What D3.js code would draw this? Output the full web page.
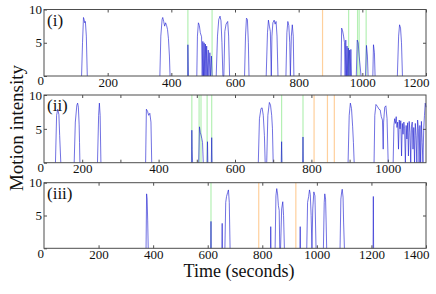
<!DOCTYPE html>
<html>
<head>
<meta charset="utf-8">
<script src="https://cdn.jsdelivr.net/npm/d3@7"></script>
<style>
  body { margin: 0; background: #fff; }
  svg, svg text { font-family: "Liberation Serif", "Times New Roman", serif; }
</style>
</head>
<body>
<svg width="436" height="294"></svg>
<script>
// Motion intensity bursts, [time (s), intensity]
const bursts1 = [
  [[118,0],[121,5],[124,8.8],[126,8.5],[128,8.0],[130,8.2],[133,6],[136,0]],
  [[364,0],[367,6],[371,8.5],[373,8.8],[376,8.2],[379,7.5],[382,8.0],[385,7.6],[388,7.0],[391,5.6],[394,3],[396,0]],
  [[451,0],[452,4.7],[454,0]],
  [[480,0],[482,6],[485,8.0],[488,7.6],[491,6.5],[495,5.9],[497,0],[499,5.2],[501,0],[503,5.0],[505,0],[507,4.8],[509,0],[511,4.5],[513,0],[516,3.9],[518,0],[521,3.5],[523,0],[526,3.0],[528,0]],
  [[541,0],[545,6],[549,8.5],[553,9.0],[556,8.3],[559,5],[562,0],[565,0],[568,6.7],[572,7.8],[577,8.2],[580,6],[583,0]],
  [[630,0],[633,6],[636,8.7],[639,8.5],[642,5],[644,0]],
  [[698,0],[702,6.5],[705,8.4],[708,7.5],[711,6.7],[714,0],[716,6],[719,8.0],[723,8.4],[726,7.8],[729,8.2],[732,6],[735,0]],
  [[760,0],[763,6.5],[766,8.2],[769,7.6],[772,5],[774,0],[777,6],[780,7.7],[783,6],[785,0]],
  [[933,0],[935,7.2],[938,6.8],[941,6],[944,5],[946,0],[948,5.4],[950,0],[952,4.5],[954,0],[956,4.2],[958,0],[960,3.9],[962,0],[964,4.0],[966,0]],
  [[981,0],[984,5.4],[987,5.0],[990,3],[993,1.5],[996,0]],
  [[1010,0],[1013,4.6],[1016,3],[1018,0]],
  [[1033,0],[1035,4.7],[1038,3.5],[1040,0]],
  [[1110,0],[1114,6],[1117,7.7],[1120,7.2],[1123,5],[1126,0]]
];
const bursts2 = [
  [[130,0],[133,7],[136,7.9],[139,7.1],[141,4],[144,0]],
  [[179,0],[182,6],[186,8.5],[188,8.8],[190,8.2],[192,5.6],[193,3],[194,0]],
  [[240,0],[243,7],[245,8.8],[247,7],[249,0]],
  [[366,0],[368,7.9],[371,7.6],[374,7.0],[377,7.3],[380,6],[382,0]],
  [[486,0],[487,4.8],[488,1.9],[489,0]],
  [[505,0],[507,5.3],[509,4.5],[511,4.1],[513,3.6],[515,3],[517,0]],
  [[527,0],[528,3.1],[529,0]],
  [[538,0],[539,3.7],[540,0]],
  [[661,0],[664,6.5],[668,8.0],[671,8.1],[674,7],[677,4],[679,0]],
  [[683,0],[686,7],[690,8.9],[693,8.5],[696,7],[698,5.1],[700,0]],
  [[721,0],[722,3.1],[723,0]],
  [[777,0],[778,3.8],[779,0]],
  [[896,0],[899,7],[902,8.8],[905,8],[908,5.3],[910,3],[912,0]],
  [[964,0],[966,7],[969,8.6],[973,8.3],[977,7.9],[980,7.8],[983,6.8],[986,6.3],[988,2],[989,6],[992,8.2],[995,8.4],[998,6.5],[1001,0]],
  [[1014,0],[1016,5.5],[1018,6.5],[1020,5.8],[1022,6.8],[1024,5.2],[1026,6.0],[1028,2],[1030,6.3],[1032,5.0],[1034,6.2],[1036,1],[1038,5.8],[1040,4.2],[1042,6.0],[1044,5.0],[1046,0],[1048,5.5],[1050,3.5],[1052,5.9],[1054,1],[1056,6.1],[1058,4.5],[1060,0],[1062,5.4],[1064,6.0],[1066,2],[1068,5.2],[1070,0],[1072,5.8],[1074,4.0],[1076,0],[1078,6.3],[1080,5.0],[1082,0],[1084,5.5],[1086,0],[1088,6.1],[1090,3],[1092,0],[1094,5.0],[1096,7],[1098,8.8],[1100,8.2]]
];
const bursts3 = [
  [[374,0],[376,8.3],[378,7.5],[380,4.3],[382,0]],
  [[611,0],[612,4.1],[613,0]],
  [[652,0],[653,3.8],[654,0]],
  [[663,0],[666,7],[669,7.9],[673,8.5],[676,8.9],[679,7],[682,0]],
  [[830,0],[831,3.3],[832,0]],
  [[847,0],[850,8],[853,9.1],[856,8.3],[859,6.5],[862,5.8],[864,0],[867,0],[871,6],[875,7.1],[878,5],[881,0]],
  [[938,0],[939,3.3],[940,0]],
  [[963,0],[966,7],[970,7.9],[973,8.9],[976,8.2],[979,5],[982,0],[985,6],[989,8.6],[993,8],[997,0]],
  [[1024,0],[1027,7],[1029,8.3],[1032,7.5],[1034,4],[1036,0]],
  [[1085,0],[1088,7.5],[1091,8.6],[1093,9.0],[1096,7.8],[1098,4],[1101,0]],
  [[1206,0],[1207,7.9],[1208,0]]
];

// event markers (seconds)
const green1 = [452, 528, 957, 985, 990, 1012];
const orange1 = [875];
const green2 = [487, 506, 511, 527, 539, 722, 778];
const orange2 = [807, 842, 860];
const green3 = [612];
const orange3 = [787, 923];

const xTicks1 = [200, 400, 600, 800, 1000, 1200];
const xTicks2 = [200, 300, 400, 500, 600, 700, 800, 900, 1000];
const xLabels2 = [200, 400, 600, 800, 1000];
const xTicks3 = [200, 400, 600, 800, 1000, 1200, 1400];
const yTicks = [0, 5, 10];

const panels = [
  {label: "(i)", domain: [0, 1200], top: 9.5, bottom: 76, bursts: bursts1, green: green1, orange: orange1, ticks: xTicks1, labels: xTicks1},
  {label: "(ii)", domain: [100, 1100], top: 95, bottom: 162.7, bursts: bursts2, green: green2, orange: orange2, ticks: xTicks2, labels: xLabels2},
  {label: "(iii)", domain: [0, 1400], top: 182.7, bottom: 248.3, bursts: bursts3, green: green3, orange: orange3, ticks: xTicks3, labels: xTicks3}
];

const svg = d3.select("svg");
const left = 44, right = 426;
const axisColor = "#4d4d4d";
const serif = "Liberation Serif, Times New Roman, serif";

panels.forEach(p => {
  const x = d3.scaleLinear().domain(p.domain).range([left, right]);
  const y = d3.scaleLinear().domain([0, 10]).range([p.bottom, p.top]);
  const g = svg.append("g");

  // event markers
  g.selectAll(".gm").data(p.green).enter().append("line")
    .attr("x1", d => x(d)).attr("x2", d => x(d))
    .attr("y1", p.top).attr("y2", p.bottom)
    .attr("stroke", "#b4f0b4").attr("stroke-width", 1.2);
  g.selectAll(".om").data(p.orange).enter().append("line")
    .attr("x1", d => x(d)).attr("x2", d => x(d))
    .attr("y1", p.top).attr("y2", p.bottom)
    .attr("stroke", "#ffd09c").attr("stroke-width", 1.2);

  const line = d3.line().x(d => x(d[0])).y(d => y(d[1]));
  g.selectAll(".burst").data(p.bursts).enter().append("path")
    .attr("d", line)
    .attr("fill", "none")
    .attr("stroke", "#1f1fd0")
    .attr("stroke-opacity", 0.7)
    .attr("stroke-width", 0.9)
    .attr("stroke-linejoin", "round");

  // box
  g.append("rect")
    .attr("x", left).attr("y", p.top)
    .attr("width", right - left).attr("height", p.bottom - p.top)
    .attr("fill", "none").attr("stroke", axisColor).attr("stroke-width", 1);

  // bottom axis (inward ticks)
  const xb = g.append("g").attr("transform", `translate(0,${p.bottom})`)
    .call(d3.axisBottom(x).tickValues(p.ticks).tickSizeInner(-3).tickSizeOuter(0)
      .tickFormat(d => p.labels.includes(d) ? d : ""))
    .attr("font-family", serif);
  xb.select(".domain").remove();
  xb.selectAll("line").attr("stroke", axisColor);
  xb.selectAll("text").attr("font-size", 13).attr("fill", "#111").attr("y", 1.5);
  xb.selectAll("text").filter(d => d === p.domain[1]).attr("text-anchor", "end").attr("dx", 3);

  const xt = g.append("g").attr("transform", `translate(0,${p.top})`)
    .call(d3.axisTop(x).tickValues(p.ticks).tickSizeInner(-3).tickSizeOuter(0).tickFormat(""));
  xt.select(".domain").remove();
  xt.selectAll("line").attr("stroke", axisColor);

  const yl = g.append("g").attr("transform", `translate(${left},0)`)
    .call(d3.axisLeft(y).tickValues(yTicks).tickSizeInner(-3).tickSizeOuter(0))
    .attr("font-family", serif);
  yl.select(".domain").remove();
  yl.selectAll("line").attr("stroke", axisColor);
  yl.selectAll("text").attr("font-size", 13).attr("fill", "#111").attr("x", -2);
  yl.selectAll("text").filter(d => d === 0).attr("dy", "0.68em").attr("x", 0);

  const yr = g.append("g").attr("transform", `translate(${right},0)`)
    .call(d3.axisRight(y).tickValues([5]).tickSizeInner(-3).tickSizeOuter(0).tickFormat(""));
  yr.select(".domain").remove();
  yr.selectAll("line").attr("stroke", axisColor);

  g.append("text")
    .attr("x", left + 3).attr("y", p.top + 16)
    .attr("font-size", 17).attr("fill", "#111")
    .text(p.label);
});

svg.append("text")
  .attr("x", 239).attr("y", 277)
  .attr("text-anchor", "middle")
  .attr("font-size", 18).attr("fill", "#111")
  .text("Time (seconds)");

svg.append("text")
  .attr("transform", "translate(23,128) rotate(-90)")
  .attr("text-anchor", "middle")
  .attr("font-size", 19).attr("fill", "#111")
  .text("Motion intensity");
</script>
</body>
</html>
